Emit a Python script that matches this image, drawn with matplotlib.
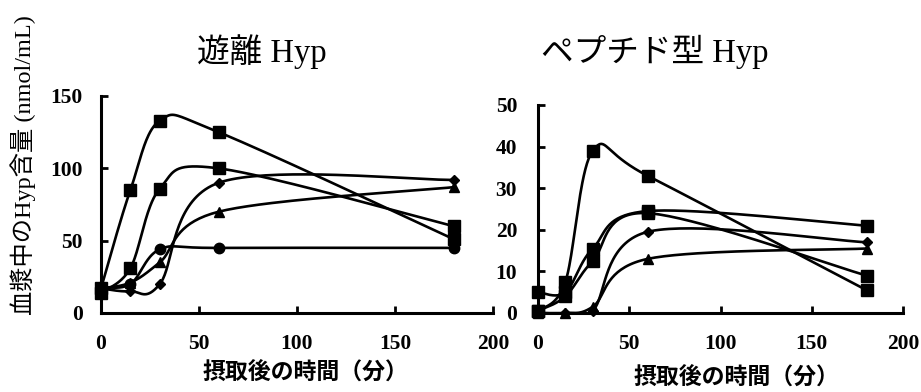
import matplotlib
matplotlib.use("Agg")
import matplotlib.pyplot as plt
import numpy as np

# sampling times (min)
minutes = [0, 15, 30, 60, 180]

# free Hyp (nmol/mL)
free_sq_a = [17, 85, 133, 125, 51]
free_sq_b = [14, 31, 86, 100, 60]
free_diamond = [17, 15, 20, 90, 92]
free_triangle = [17, 21, 35, 70, 87]
free_circle = [18, 20, 44, 45, 45]

# peptide-form Hyp (nmol/mL)
pep_sq_a = [0.5, 7.5, 39, 33, 5.5]
pep_sq_b = [5, 5, 15.5, 24.5, 21]
pep_sq_c = [0.5, 4, 12.5, 24, 9]
pep_diamond = [0, 0, 0.5, 19.5, 17]
pep_triangle = [0, 0, 1.5, 13, 15.5]

xticks = [0, 50, 100, 150, 200]
num_font = dict(family="Liberation Serif", weight="bold", size=15.5)
mixed = ["Liberation Serif", "Noto Sans CJK JP"]

W, H = 921, 392
fig = plt.figure(figsize=(W / 100, H / 100), dpi=100)


def smooth_line(ax, x, y, n=40):
    # Bezier smoothing done in screen space so the curve shape ignores axis scaling
    pts = ax.transData.transform(np.column_stack([x, y]))
    out = [pts[0]]
    m = len(pts)
    for i in range(m - 1):
        p0 = pts[max(i - 1, 0)]
        p1 = pts[i]
        p2 = pts[i + 1]
        p3 = pts[min(i + 2, m - 1)]
        c1 = p1 + (p2 - p0) / 6
        c2 = p2 - (p3 - p1) / 6
        t = np.linspace(0, 1, n)[1:, None]
        seg = ((1 - t) ** 3) * p1 + 3 * ((1 - t) ** 2) * t * c1 \
            + 3 * (1 - t) * t ** 2 * c2 + t ** 3 * p2
        out.extend(seg)
    out = ax.transData.inverted().transform(np.array(out))
    ax.plot(out[:, 0], out[:, 1], color="black", lw=1.9, zorder=2,
            solid_capstyle="round")


def make_axes(px_left, px_right, px_bottom, px_top, ymax, yticks, ypad):
    ax = fig.add_axes([px_left / W, 1 - px_bottom / H,
                       (px_right - px_left) / W, (px_bottom - px_top) / H])
    ax.set_xlim(0, 200)
    ax.set_ylim(0, ymax)
    for s in ["top", "right"]:
        ax.spines[s].set_visible(False)
    for s in ["left", "bottom"]:
        ax.spines[s].set_linewidth(2.2)
        ax.spines[s].set_clip_on(False)
    ax.set_xticks(xticks)
    ax.set_yticks(yticks)
    ax.tick_params(axis="both", direction="in", length=5, width=2)
    ax.tick_params(axis="x", pad=15)
    ax.tick_params(axis="y", pad=ypad)
    fp = matplotlib.font_manager.FontProperties(**num_font)
    for lab in ax.get_xticklabels() + ax.get_yticklabels():
        lab.set_fontproperties(fp)
    ax.patch.set_alpha(0)
    return ax


def draw(ax, y, marker, ms):
    smooth_line(ax, minutes, y)
    ax.plot(minutes, y, linestyle="none", marker=marker, ms=ms,
            color="black", zorder=3, clip_on=False)


ax1 = make_axes(101, 493, 313, 96, 150, [0, 50, 100, 150], 13)
draw(ax1, free_sq_a, "s", 9)
draw(ax1, free_sq_b, "s", 9)
draw(ax1, free_diamond, "D", 5)
draw(ax1, free_triangle, "^", 7)
draw(ax1, free_circle, "o", 7.5)

ax2 = make_axes(538, 903, 313, 105, 50, [0, 10, 20, 30, 40, 50], 15)
draw(ax2, pep_sq_a, "s", 9)
draw(ax2, pep_sq_b, "s", 9)
draw(ax2, pep_sq_c, "s", 9)
draw(ax2, pep_diamond, "D", 5)
draw(ax2, pep_triangle, "^", 7)

fig.text(262 / W, 1 - 52 / H, "遊離 Hyp", family=mixed, size=23.5,
         ha="center", va="center")
fig.text(655 / W, 1 - 52 / H, "ペプチド型 Hyp", family=mixed, size=23.5,
         ha="center", va="center")
fig.text(23 / W, 1 - 165 / H, "血漿中のHyp含量 (nmol/mL)", family=mixed,
         size=17.5, rotation=90, ha="center", va="center")
fig.text(305 / W, 1 - 372 / H, "摂取後の時間（分）", family="Noto Sans CJK JP",
         weight="bold", size=16.5, ha="center", va="center")
fig.text(736 / W, 1 - 377 / H, "摂取後の時間（分）", family="Noto Sans CJK JP",
         weight="bold", size=16.5, ha="center", va="center")

fig.savefig("out.png", dpi=100)
